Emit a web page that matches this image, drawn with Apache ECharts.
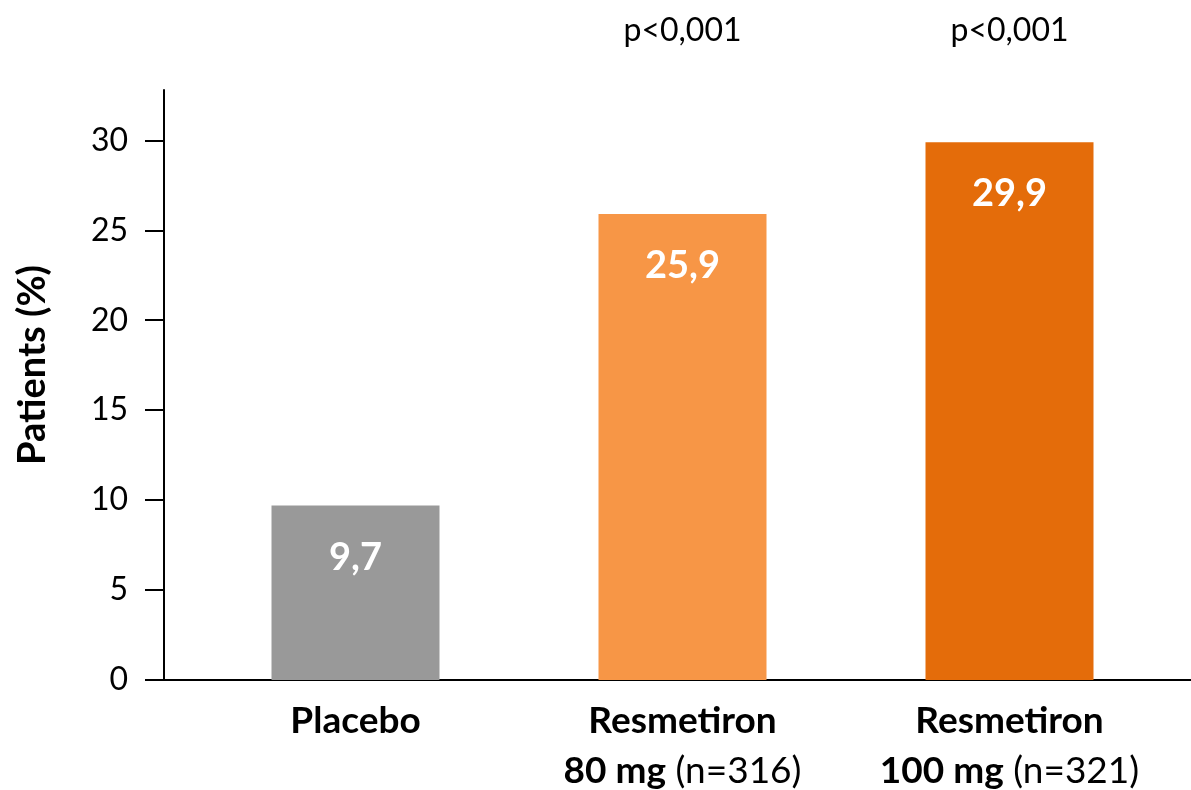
<!DOCTYPE html>
<html>
<head>
<meta charset="utf-8">
<script src="https://cdn.jsdelivr.net/npm/echarts@6/dist/echarts.min.js"></script>
<style>
  html, body { margin: 0; padding: 0; background: #fff; }
  #chart { width: 1191px; height: 790px; }
</style>
</head>
<body>
<div id="chart"></div>
<script>
// ---- data ----
const categories = ['Placebo', 'Resmetiron 80 mg', 'Resmetiron 100 mg'];
const drugNames = ['Placebo', 'Resmetiron', 'Resmetiron'];
const doses = ['', '80 mg', '100 mg'];
const nLabels = ['', '(n=316)', '(n=321)'];
const values = [9.7, 25.9, 29.9];
const valueLabels = ['9,7', '25,9', '29,9'];
const pValues = ['', 'p<0,001', 'p<0,001'];
const yTicks = [0, 5, 10, 15, 20, 25, 30];
const barColors = ['#999999', '#F79646', '#E46C0A'];

const FONT = 'Lato';
const P_LABEL_LEVEL = 36.1;

const chart = echarts.init(document.getElementById('chart'), null, { renderer: 'canvas' });

const option = {
  backgroundColor: '#ffffff',
  animation: false,
  textStyle: { fontFamily: FONT, color: '#000' },
  grid: [
    { left: 192, right: 18, top: 90, bottom: 110, containLabel: false },
    { left: 164, right: 0, top: 90, bottom: 110, containLabel: false }
  ],
  xAxis: [
    {
      type: 'category',
      gridIndex: 0,
      data: categories,
      axisLine: { show: false },
      axisTick: { show: false },
      axisLabel: {
        margin: 16,
        interval: 0,
        color: '#000',
        formatter: function (val, idx) {
          let s = '{b|' + drugNames[idx] + '}';
          if (doses[idx]) {
            s += '\n{b|' + doses[idx] + '}{n| ' + nLabels[idx] + '}';
          }
          return s;
        },
        rich: {
          b: { fontFamily: FONT, fontWeight: 'bold', fontSize: 37, lineHeight: 50, color: '#000' },
          n: { fontFamily: FONT, fontWeight: 'normal', fontSize: 37, lineHeight: 50, color: '#000' }
        }
      }
    },
    {
      type: 'category',
      gridIndex: 1,
      data: [''],
      axisLine: { show: true, lineStyle: { color: '#000', width: 2 } },
      axisTick: { show: false },
      axisLabel: { show: false },
      splitLine: { show: false }
    }
  ],
  yAxis: [
    {
      type: 'value',
      gridIndex: 0,
      min: 0,
      max: 32.8,
      offset: 28,
      name: 'Patients (%)',
      nameLocation: 'middle',
      nameRotate: 90,
      nameGap: 112,
      nameTextStyle: { fontFamily: FONT, fontWeight: 'bold', fontSize: 38, color: '#000', padding: [0, 0, 0, 40] },
      axisLine: { show: true, lineStyle: { color: '#000', width: 2 } },
      axisTick: { show: true, length: 19, lineStyle: { color: '#000', width: 2 }, customValues: yTicks },
      axisLabel: { margin: 36, fontFamily: FONT, fontSize: 32, color: '#000', customValues: yTicks },
      splitLine: { show: false }
    },
    {
      type: 'value',
      gridIndex: 1,
      show: false,
      min: 0,
      max: 1
    }
  ],
  series: [
    {
      type: 'bar',
      xAxisIndex: 0,
      yAxisIndex: 0,
      barWidth: 168,
      data: values.map(function (v, i) {
        return { value: v, itemStyle: { color: barColors[i] } };
      }),
      label: {
        show: true,
        position: 'insideTop',
        distance: 33,
        fontFamily: FONT,
        fontWeight: 'bold',
        fontSize: 38,
        color: '#ffffff',
        formatter: function (p) { return valueLabels[p.dataIndex]; }
      }
    },
    {
      type: 'scatter',
      xAxisIndex: 0,
      yAxisIndex: 0,
      clip: false,
      symbolSize: 1,
      itemStyle: { color: 'rgba(0,0,0,0)', opacity: 1 },
      silent: true,
      data: pValues.map(function (p, i) {
        return p ? [categories[i], P_LABEL_LEVEL] : null;
      }).filter(function (d) { return d; }),
      label: {
        show: true,
        position: 'inside',
        fontFamily: FONT,
        fontSize: 32,
        color: '#000000',
        opacity: 1,
        formatter: function (p) {
          const idx = categories.indexOf(p.value[0]);
          return pValues[idx];
        }
      }
    }
  ]
};

chart.setOption(option);
</script>
</body>
</html>
